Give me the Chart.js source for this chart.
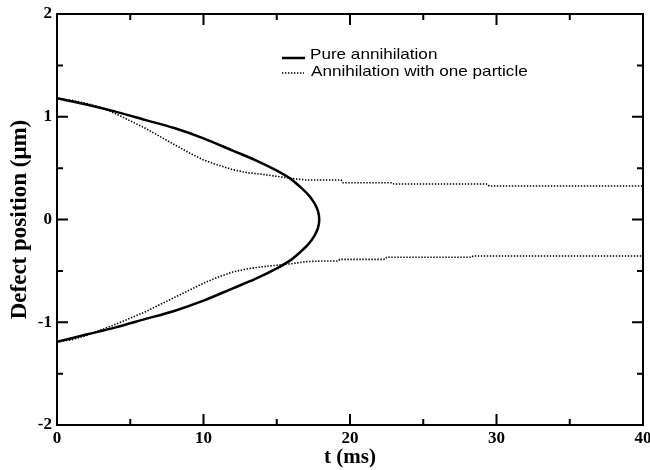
<!DOCTYPE html>
<html>
<head>
<meta charset="utf-8">
<title>Defect position</title>
<script src="https://cdn.jsdelivr.net/npm/chart.js@4/dist/chart.umd.min.js"></script>
<style>
  html, body { margin: 0; padding: 0; background: #fff; }
</style>
</head>
<body>
<canvas id="defectChart" width="650" height="470"></canvas>
<script>
// pure annihilation: one curve, upper branch down to the tip then back along the lower branch
const pureT = [0, 2, 4, 6, 8, 10, 12, 13.5, 14.94, 15.9, 16.58, 17.16, 17.57, 17.82, 17.9,
               17.82, 17.57, 17.16, 16.58, 15.9, 14.94, 13.5, 12, 10, 8, 6, 4, 2, 0];
const pureY = [1.18, 1.12, 1.05, 0.97, 0.89, 0.79, 0.67, 0.58, 0.48, 0.40, 0.32, 0.24, 0.16, 0.08, 0,
               -0.08, -0.16, -0.24, -0.32, -0.40, -0.48, -0.58, -0.67, -0.79, -0.89, -0.97, -1.05, -1.12, -1.19];

// annihilation with one particle
const upperT = [0, 1, 2, 3, 4, 5, 6, 7, 8, 9, 10, 11, 12, 13, 14, 15, 16, 17, 19.4, 19.5, 22.9, 23, 29.4, 29.5, 40];
const upperY = [1.18, 1.16, 1.13, 1.09, 1.03, 0.96, 0.89, 0.81, 0.73, 0.65, 0.58, 0.53, 0.485, 0.455, 0.44, 0.42, 0.40, 0.385,
                0.384, 0.358, 0.358, 0.345, 0.345, 0.326, 0.326];
const lowerT = [0, 1, 2, 3, 4, 5, 6, 7, 8, 9, 10, 11, 12, 13, 14, 15, 16, 17, 18, 19.2, 19.3, 22.4, 22.5, 28.3, 28.4, 40];
const lowerY = [-1.19, -1.17, -1.13, -1.075, -1.02, -0.96, -0.90, -0.83, -0.76, -0.69, -0.62, -0.56, -0.51, -0.48, -0.46,
                -0.445, -0.43, -0.41, -0.404, -0.404, -0.388, -0.388, -0.368, -0.368, -0.355, -0.355];

const xTicks = [0, 10, 20, 30, 40];
const yTicks = [-2, -1, 0, 1, 2];

const legendLabels = ['Pure annihilation', 'Annihilation with one particle'];

function points(ts, ys) {
    return ts.map((t, i) => ({ x: t, y: ys[i] }));
}

const DOTS = [1.4, 1.6];
const SERIF = '"Liberation Serif", "Times New Roman", serif';

// frame, inward ticks on all four sides, legend inside the plot
const framePlugin = {
    id: 'frame',
    afterDraw(chart) {
        const ctx = chart.ctx;
        const a = chart.chartArea;
        const xs = chart.scales.x, ys = chart.scales.y;
        ctx.save();
        ctx.strokeStyle = '#000';
        ctx.lineWidth = 2;
        ctx.strokeRect(a.left, a.top, a.right - a.left, a.bottom - a.top);

        ctx.beginPath();
        xTicks.forEach((v, i) => {
            const px = xs.getPixelForValue(v);
            ctx.moveTo(px, a.bottom); ctx.lineTo(px, a.bottom - 11);
            ctx.moveTo(px, a.top); ctx.lineTo(px, a.top + 11);
            if (i < xTicks.length - 1) {
                const mx = xs.getPixelForValue((v + xTicks[i + 1]) / 2);
                ctx.moveTo(mx, a.bottom); ctx.lineTo(mx, a.bottom - 6);
                ctx.moveTo(mx, a.top); ctx.lineTo(mx, a.top + 6);
            }
        });
        yTicks.forEach((v, i) => {
            const py = ys.getPixelForValue(v);
            ctx.moveTo(a.left, py); ctx.lineTo(a.left + 11, py);
            ctx.moveTo(a.right, py); ctx.lineTo(a.right - 11, py);
            if (i < yTicks.length - 1) {
                const my = ys.getPixelForValue((v + yTicks[i + 1]) / 2);
                ctx.moveTo(a.left, my); ctx.lineTo(a.left + 6, my);
                ctx.moveTo(a.right, my); ctx.lineTo(a.right - 6, my);
            }
        });
        ctx.stroke();

        // legend
        const lx = 282, ly = 57;
        ctx.lineWidth = 2.5;
        ctx.beginPath();
        ctx.moveTo(lx, ly + 1); ctx.lineTo(lx + 23, ly + 1);
        ctx.stroke();
        ctx.lineWidth = 1.6;
        ctx.setLineDash(DOTS);
        ctx.beginPath();
        ctx.moveTo(lx, ly + 16); ctx.lineTo(lx + 22, ly + 16);
        ctx.stroke();
        ctx.setLineDash([]);

        ctx.font = '15px "Liberation Sans", Arial, sans-serif';
        ctx.fillStyle = '#000';
        ctx.textBaseline = 'middle';
        ctx.save();
        ctx.translate(lx + 28, 0);
        ctx.scale(1.14, 1);
        ctx.fillText(legendLabels[0], 0, ly - 2);
        ctx.restore();
        ctx.save();
        ctx.translate(lx + 29, 0);
        ctx.scale(1.14, 1);
        ctx.fillText(legendLabels[1], 0, ly + 15);
        ctx.restore();
        ctx.restore();
    }
};

const ctx = document.getElementById('defectChart');

new Chart(ctx, {
    type: 'line',
    data: {
        datasets: [
            {
                label: legendLabels[0],
                data: points(pureT, pureY),
                borderColor: '#000',
                borderWidth: 2.5,
                tension: 0.3,
                pointRadius: 0
            },
            {
                label: legendLabels[1],
                data: points(upperT, upperY),
                borderColor: '#000',
                borderWidth: 1.6,
                borderDash: DOTS,
                pointRadius: 0
            },
            {
                label: legendLabels[1],
                data: points(lowerT, lowerY),
                borderColor: '#000',
                borderWidth: 1.6,
                borderDash: DOTS,
                pointRadius: 0
            }
        ]
    },
    options: {
        responsive: false,
        animation: false,
        parsing: false,
        layout: { padding: { top: 14, right: 7, left: 0, bottom: 0 } },
        plugins: {
            legend: { display: false },
            tooltip: { enabled: false }
        },
        scales: {
            x: {
                type: 'linear',
                min: 0,
                max: 40,
                afterBuildTicks(scale) {
                    scale.ticks = xTicks.map(v => ({ value: v }));
                },
                afterFit(scale) {
                    scale.height = 45;
                    scale.paddingLeft = 0;
                    scale.paddingRight = 0;
                },
                grid: { display: false, drawTicks: false },
                border: { display: false },
                ticks: {
                    color: '#000',
                    padding: 3,
                    maxRotation: 0,
                    font: { family: SERIF, size: 17, weight: 'bold' }
                },
                title: {
                    display: true,
                    text: 't (ms)',
                    color: '#000',
                    padding: 0,
                    font: { family: SERIF, size: 21, weight: 'bold' }
                }
            },
            y: {
                type: 'linear',
                min: -2,
                max: 2,
                afterBuildTicks(scale) {
                    scale.ticks = yTicks.map(v => ({ value: v }));
                },
                afterFit(scale) {
                    scale.width = 57;
                    scale.paddingTop = 0;
                    scale.paddingBottom = 0;
                },
                grid: { display: false, drawTicks: false },
                border: { display: false },
                ticks: {
                    color: '#000',
                    padding: 5,
                    font: { family: SERIF, size: 17, weight: 'bold' }
                },
                title: {
                    display: true,
                    text: 'Defect position (μm)',
                    color: '#000',
                    padding: { top: 6, bottom: 0 },
                    font: { family: SERIF, size: 23, weight: 'bold' }
                }
            }
        }
    },
    plugins: [framePlugin]
});
</script>
</body>
</html>
